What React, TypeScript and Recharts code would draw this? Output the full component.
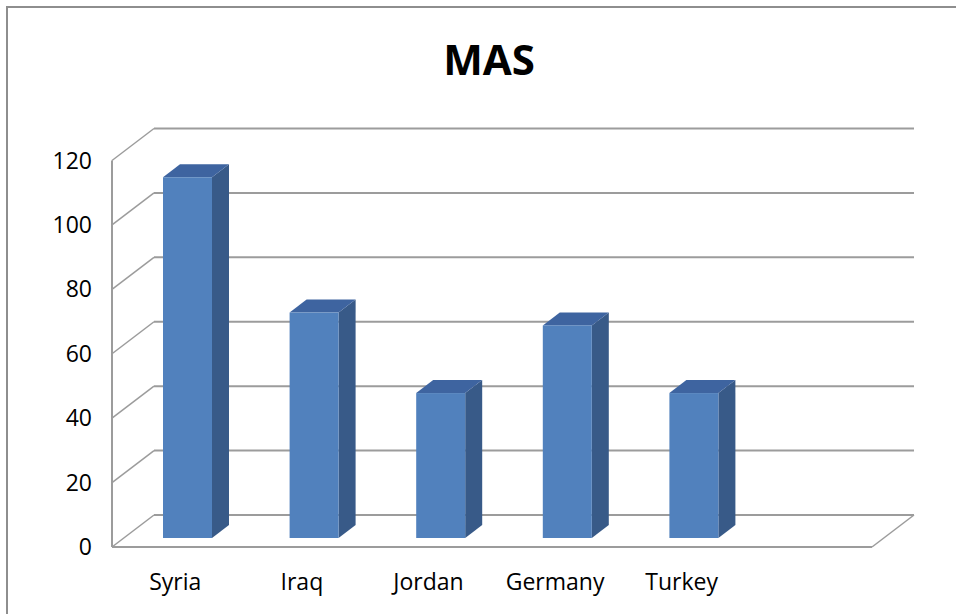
import { Bar, BarChart, CartesianGrid, XAxis, YAxis } from "recharts";

const CATEGORIES = ["Syria", "Iraq", "Jordan", "Germany", "Turkey"];
const VALUES = [112, 70, 45, 66, 45];
const Y_TICKS = [0, 20, 40, 60, 80, 100, 120];

const data = CATEGORIES.map((name, i) => ({ name, value: VALUES[i] }));

// 3D geometry: back wall offset, bar placement inside the floor, bar depth
const WALL_DX = 42;
const WALL_DY = -32;
const BAR_SHIFT_X = 12;
const BAR_SHIFT_Y = -9;
const BAR_DX = 17;
const BAR_DY = -13;

const PLOT_BOTTOM = 547;
const GRID = "#9c9c9c";
const FONT = "'Open Sans', sans-serif";

function WallLine(props: any) {
  const { x1, y1, x2 } = props;
  const isFloor = Math.abs(y1 - PLOT_BOTTOM) < 1;
  return (
    <g>
      <line x1={x1 + WALL_DX} y1={y1 + WALL_DY} x2={x2 + WALL_DX} y2={y1 + WALL_DY} stroke={GRID} strokeWidth={2} />
      <line x1={x1} y1={y1} x2={x1 + WALL_DX} y2={y1 + WALL_DY} stroke={GRID} strokeWidth={1.5} />
      {isFloor && (
        <line x1={x2} y1={y1} x2={x2 + WALL_DX} y2={y1 + WALL_DY} stroke={GRID} strokeWidth={1.5} />
      )}
    </g>
  );
}

function Box3D(props: any) {
  const { x, y, width, height } = props;
  if (!height) return null;
  const fx = x + BAR_SHIFT_X;
  const fy = y + BAR_SHIFT_Y;
  const top = `${fx},${fy} ${fx + BAR_DX},${fy + BAR_DY} ${fx + width + BAR_DX},${fy + BAR_DY} ${fx + width},${fy}`;
  const side = `${fx + width},${fy} ${fx + width + BAR_DX},${fy + BAR_DY} ${fx + width + BAR_DX},${fy + height + BAR_DY} ${fx + width},${fy + height}`;
  return (
    <g>
      <polygon points={side} fill="#385a88" />
      <polygon points={top} fill="#3e64a0" />
      <rect x={fx} y={fy} width={width} height={height} fill="#5181bd" />
    </g>
  );
}

export default function App() {
  return (
    <div
      style={{
        position: "absolute",
        left: 0,
        top: 0,
        width: 956,
        height: 614,
        overflow: "hidden",
        background: "#fff",
        fontFamily: FONT,
      }}
    >
      <div
        style={{
          position: "absolute",
          left: 6,
          top: 6,
          width: 1000,
          height: 700,
          border: "2px solid #8e8e8e",
        }}
      />
      <div
        style={{
          position: "absolute",
          left: 0,
          top: 38,
          width: 978,
          textAlign: "center",
          fontSize: 42,
          lineHeight: "42px",
          fontWeight: 700,
          color: "#000",
        }}
      >
        MAS
      </div>
      <div style={{ position: "absolute", left: 0, top: 0 }}>
        <BarChart
          width={956}
          height={614}
          data={data}
          margin={{ top: 160.5, right: 84, bottom: 7, left: 12 }}
        >
          <CartesianGrid vertical={false} horizontal={(p: any) => <WallLine {...p} />} />
          <XAxis
            dataKey="name"
            padding={{ left: 0, right: 127 }}
            height={60}
            axisLine={{ stroke: GRID, strokeWidth: 2 }}
            tickLine={false}
            tickSize={0}
            tickMargin={27}
            interval={0}
            tick={{ fill: "#000", fontSize: 23, fontFamily: FONT }}
          />
          <YAxis
            width={100}
            domain={[0, 120]}
            ticks={Y_TICKS}
            interval={0}
            axisLine={{ stroke: GRID, strokeWidth: 2 }}
            tickLine={false}
            tickSize={0}
            tickMargin={20}
            tick={{ fill: "#000", fontSize: 23, fontFamily: FONT }}
          />
          <Bar dataKey="value" barSize={49} shape={<Box3D />} isAnimationActive={false} />
        </BarChart>
      </div>
    </div>
  );
}
